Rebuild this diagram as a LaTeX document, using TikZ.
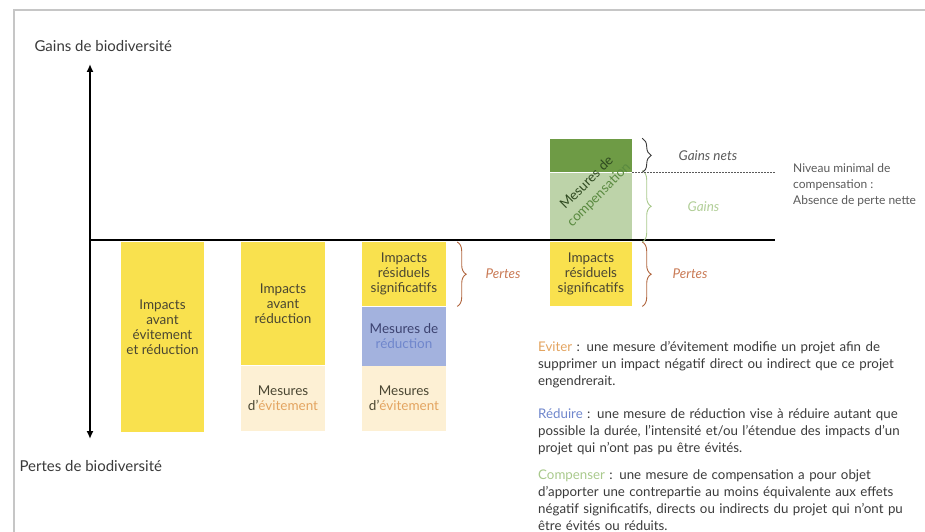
\documentclass[tikz,border=0pt]{standalone}
\usepackage{fontspec}
\setmainfont{Lato}
\usetikzlibrary{arrows.meta, positioning, calc, decorations.pathreplacing}
\definecolor{cjaune}{HTML}{F9E14E}
\definecolor{cbeige}{HTML}{FDF0D4}
\definecolor{cbleu}{HTML}{A3B2DE}
\definecolor{cvertfonce}{HTML}{6E9B45}
\definecolor{cvertclair}{HTML}{BDD3A9}
\definecolor{cbrun}{HTML}{B0653E}
\definecolor{cpertes}{HTML}{C97A55}
\definecolor{corange}{HTML}{E3A460}
\definecolor{cbleutexte}{HTML}{6F86CC}
\definecolor{cbleunuit}{HTML}{3C4270}
\definecolor{cverttexte}{HTML}{A9C98C}
\definecolor{cvertcomp}{HTML}{5A8A40}
\definecolor{cvertnoir}{HTML}{2F4A20}
\definecolor{ctexte}{HTML}{3A3A3A}
\definecolor{cgris}{HTML}{5A5A5A}
\definecolor{cbarre}{HTML}{4A4632}
\tikzset{
  bloc/.style={rectangle, fill=#1, draw=none, inner sep=0pt, align=center,
               font=\fontsize{13.5}{15}\selectfont, text=cbarre},
  accolade/.style={decorate, decoration={brace, amplitude=9pt}, draw=#1, line width=0.9pt},
  etiquette/.style={font=\itshape\fontsize{13.5}{15}\selectfont, text=#1, inner sep=0pt},
  definition/.style={align=left, text width=385pt, inner sep=0pt, text=ctexte,
                     font=\fontsize{13.3}{17}\selectfont},
}

\begin{document}
\begin{tikzpicture}[x=1pt, y=-1pt]
        \useasboundingbox (0,0) rectangle (925,532);
        \draw[gray!45, line width=1.5pt] (14,532) -- (14,10) -- (925,10);

        % axes
        \coordinate (origine) at (90,240);
        \coordinate (haut) at (90,64);
        \coordinate (bas) at (90,439);
        \coordinate (finaxe) at (775,240);
        \node[anchor=west, font=\fontsize{15}{18}\selectfont, text=ctexte] (gainsbio) at (31,46) {Gains de biodiversité};
        \node[anchor=west, font=\fontsize{15}{18}\selectfont, text=ctexte] (pertesbio) at (16,466) {Pertes de biodiversité};

        % colonnes
        \node[bloc=cjaune, minimum width=83, minimum height=190, anchor=north] (iae) at (162.5,242) {};
        \node[bloc=cjaune, inner sep=0pt] (txtiae) at ([yshift=10]iae.center) {Impacts\\avant\\évitement\\et réduction};

        \node[bloc=cjaune, minimum width=84, minimum height=123, anchor=north] (iar) at (283,242) {Impacts\\avant\\réduction};
        \node[bloc=cbeige, minimum width=84, minimum height=65, below=0pt of iar] (evit2) {Mesures\\d'\textcolor{corange}{évitement}};

        \node[bloc=cjaune, minimum width=84, minimum height=64, anchor=north] (irs) at (404,242) {Impacts\\résiduels\\significatifs};
        \node[bloc=cbleu, minimum width=84, minimum height=59, below=0pt of irs, text=cbleunuit] (redu) {Mesures de\\\textcolor{cbleutexte}{réduction}};
        \node[bloc=cbeige, minimum width=84, minimum height=65, below=0pt of redu] (evit3) {Mesures\\d'\textcolor{corange}{évitement}};

        \node[bloc=cjaune, minimum width=82, minimum height=64, anchor=north] (irscomp) at (591,242) {Impacts\\résiduels\\significatifs};
        \node[bloc=cvertclair, minimum width=82, minimum height=67, anchor=south] (gain) at (591,240) {};
        \node[bloc=cvertfonce, minimum width=82, minimum height=33, above=0pt of gain] (gainnet) {};
        \node[rotate=45, align=center, inner sep=0pt, font=\fontsize{13.5}{17}\selectfont] (txtcomp) at (593,189)
            {\textcolor{cvertnoir}{Mesures de}\\\textcolor{cvertcomp}{compensation}};

        \draw[line width=1.6pt, {Latex[length=8pt, width=7pt]}-{Latex[length=8pt, width=7pt]}] (bas) -- (haut);
        \draw[line width=2.6pt] (origine) -- (finaxe);

        % accolades
        \draw[accolade=cbrun] ([xshift=11]irs.north east) -- ([xshift=11]irs.south east)
            node[midway, right=28pt, etiquette=cpertes] (pertes3) {Pertes};
        \draw[accolade=cbrun] ([xshift=10]irscomp.north east) -- ([xshift=10]irscomp.south east)
            node[midway, right=30pt, etiquette=cpertes] (pertes4) {Pertes};
        \draw[accolade=cverttexte] ([xshift=10,yshift=2]gain.north east) -- ([xshift=10,yshift=-2]gain.south east)
            node[midway, right=45pt, etiquette=cverttexte!90] (gains) {Gains};
        \draw[accolade=ctexte] ([xshift=10,yshift=1]gainnet.north east) -- ([xshift=10]gainnet.south east)
            node[midway, right=36pt, etiquette=cgris] (gainsnets) {Gains nets};
        \draw[cgris, line width=0.9pt, dash pattern=on 2pt off 1pt] (gainnet.south east) -- (gainnet.south east -| finaxe);

        \node[anchor=north west, align=left, inner sep=0pt, text=cgris, font=\fontsize{12}{16}\selectfont] (niveau) at (793,163)
            {Niveau minimal de\\compensation :\\Absence de perte nette};

        % definitions
        \node[definition, anchor=north west] (eviter) at (538,341)
            {\textcolor{corange}{Eviter} : une mesure d'évitement modifie un projet afin de\\supprimer un impact négatif direct ou indirect que ce projet\\engendrerait.};
        \node[definition, below=21pt of eviter] (reduire)
            {\textcolor{cbleutexte}{Réduire} : une mesure de réduction vise à réduire autant que\\possible la durée, l'intensité et/ou l'étendue des impacts d'un\\projet qui n'ont pas pu être évités.};
        \node[definition, below=14pt of reduire] (compenser)
            {\textcolor{cverttexte}{Compenser} : une mesure de compensation a pour objet\\d'apporter une contrepartie au moins équivalente aux effets\\négatif significatifs, directs ou indirects du projet qui n'ont pu\\être évités ou réduits.};
    \end{tikzpicture}
\end{document}
